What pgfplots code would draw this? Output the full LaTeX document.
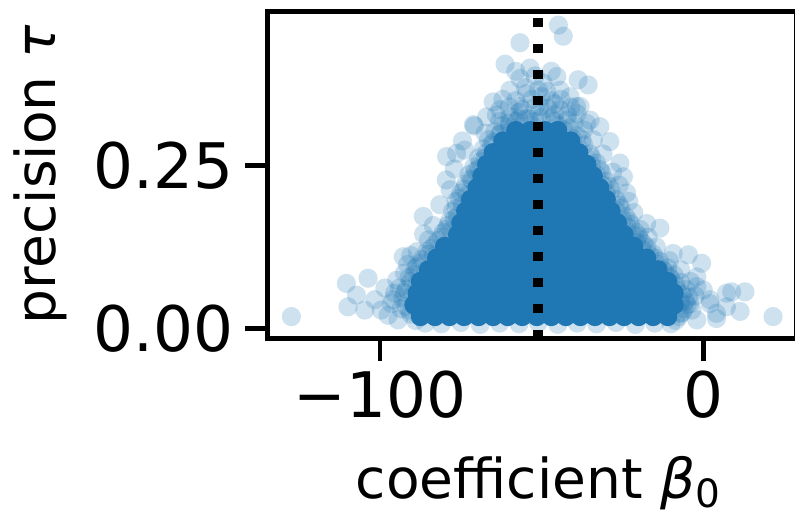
\documentclass[border=0pt]{standalone}
\usepackage{fontspec}
\setmainfont{DejaVu Sans}
\usepackage{pgfplots}
\pgfplotsset{compat=1.18}
\definecolor{mplblue}{HTML}{1F77B4}
\begin{document}
\begin{tikzpicture}
\useasboundingbox (0,0) rectangle (397.5pt,257.5pt);
\clip (0,0) rectangle (397.5pt,257.5pt);
\begin{axis}[
  at={(133.75pt,88.15pt)}, anchor=south west,
  scale only axis, width=264.25pt, height=163.6pt,
  xmin=-134.8, xmax=28.7, ymin=-0.016, ymax=0.487,
  axis line style={line width=2.3pt, black},
  tick align=outside, tick pos=left, major tick length=11pt,
  tick style={line width=2.3pt, black},
  xtick={-100,0}, xticklabels={−100,0},
  ytick={0,0.25}, yticklabels={0.00,0.25},
  ticklabel style={font=\fontsize{31.4}{35}\selectfont},
  xticklabel style={yshift=-1.5pt},
  yticklabel style={xshift=-2.5pt},
  xlabel={coefficient \textit{β}\raisebox{-4.5pt}{\fontsize{19.5}{20}\selectfont 0}},
  ylabel={precision \textit{τ}},
  every axis x label/.style={at={(axis description cs:0.5118,-0.4869)}, anchor=base, font=\fontsize{27.5}{30}\selectfont},
  every axis y label/.style={at={(axis description cs:-0.4002,0.5)}, rotate=90, anchor=base, font=\fontsize{27.5}{30}\selectfont},
  clip marker paths=true,
  axis on top,
]
% dense core of the cloud
\addplot[only marks, mark=*, mark size=4.8pt, mark options={draw=mplblue, draw opacity=0, fill=mplblue}] coordinates {
(-87.5,0.018) (-83,0.018) (-78.5,0.018) (-74,0.018) (-69.5,0.018) (-65,0.018) (-60.5,0.018) (-56,0.018) (-51.5,0.018) (-47,0.018) (-42.5,0.018) (-38,0.018) (-33.5,0.018) (-29,0.018) (-24.5,0.018) (-20,0.018) (-15.5,0.018) (-11,0.018)
(-89.5,0.036) (-85,0.036) (-80.5,0.036) (-76,0.036) (-71.5,0.036) (-67,0.036) (-62.5,0.036) (-58,0.036) (-53.5,0.036) (-49,0.036) (-44.5,0.036) (-40,0.036) (-35.5,0.036) (-31,0.036) (-26.5,0.036) (-22,0.036) (-17.5,0.036) (-13,0.036) (-9,0.036)
(-88.5,0.054) (-84,0.054) (-79.5,0.054) (-75,0.054) (-70.5,0.054) (-66,0.054) (-61.5,0.054) (-57,0.054) (-52.5,0.054) (-48,0.054) (-43.5,0.054) (-39,0.054) (-34.5,0.054) (-30,0.054) (-25.5,0.054) (-21,0.054) (-16.5,0.054) (-12.5,0.054) (-9,0.054)
(-87.5,0.072) (-83.5,0.072) (-79,0.072) (-74.5,0.072) (-70,0.072) (-65.5,0.072) (-61,0.072) (-56.5,0.072) (-52,0.072) (-47.5,0.072) (-43,0.072) (-38.5,0.072) (-34,0.072) (-29.5,0.072) (-25,0.072) (-20.5,0.072) (-16,0.072) (-11,0.072)
(-85,0.090) (-81,0.090) (-76.5,0.090) (-72,0.090) (-67.5,0.090) (-63,0.090) (-58.5,0.090) (-54,0.090) (-49.5,0.090) (-45,0.090) (-40.5,0.090) (-36,0.090) (-31.5,0.090) (-27,0.090) (-22.5,0.090) (-18,0.090) (-14,0.090)
(-82.5,0.108) (-78.5,0.108) (-74,0.108) (-69.5,0.108) (-65,0.108) (-60.5,0.108) (-56,0.108) (-51.5,0.108) (-47,0.108) (-42.5,0.108) (-38,0.108) (-33.5,0.108) (-29,0.108) (-24.5,0.108) (-20,0.108) (-17.5,0.108)
(-80,0.126) (-75.5,0.126) (-71,0.126) (-66.5,0.126) (-62,0.126) (-57.5,0.126) (-53,0.126) (-48.5,0.126) (-44,0.126) (-39.5,0.126) (-35,0.126) (-30.5,0.126) (-26,0.126) (-21.5,0.126)
(-76,0.144) (-72,0.144) (-67.5,0.144) (-63,0.144) (-58.5,0.144) (-54,0.144) (-49.5,0.144) (-45,0.144) (-40.5,0.144) (-36,0.144) (-31.5,0.144) (-27.5,0.144) (-24.5,0.144)
(-75,0.162) (-70.5,0.162) (-66,0.162) (-61.5,0.162) (-57,0.162) (-52.5,0.162) (-48,0.162) (-43.5,0.162) (-39,0.162) (-34.5,0.162) (-30,0.162) (-26.5,0.162)
(-73.5,0.180) (-69,0.180) (-64.5,0.180) (-60,0.180) (-55.5,0.180) (-51,0.180) (-46.5,0.180) (-42,0.180) (-37.5,0.180) (-33,0.180) (-28.5,0.180)
(-72,0.198) (-68,0.198) (-63.5,0.198) (-59,0.198) (-54.5,0.198) (-50,0.198) (-45.5,0.198) (-41,0.198) (-36.5,0.198) (-32,0.198) (-30,0.198)
(-70,0.216) (-65.5,0.216) (-61,0.216) (-56.5,0.216) (-52,0.216) (-47.5,0.216) (-43,0.216) (-38.5,0.216) (-34,0.216) (-32,0.216)
(-68.5,0.234) (-64,0.234) (-59.5,0.234) (-55,0.234) (-50.5,0.234) (-46,0.234) (-41.5,0.234) (-37,0.234) (-34,0.234)
(-67,0.252) (-62.5,0.252) (-58,0.252) (-53.5,0.252) (-49,0.252) (-44.5,0.252) (-40,0.252) (-36,0.252)
(-65,0.270) (-60.5,0.270) (-56,0.270) (-51.5,0.270) (-47,0.270) (-42.5,0.270) (-38.5,0.270)
(-62,0.288) (-57.5,0.288) (-53,0.288) (-48.5,0.288) (-44,0.288) (-41,0.288)
(-58,0.304) (-53.5,0.304) (-49,0.304) (-45,0.304)
};
% sparser samples around the core
\addplot[only marks, mark=*, mark size=4.8pt, mark options={draw=mplblue, draw opacity=0, fill=mplblue, fill opacity=0.22}] coordinates {
(-127.4,0.018) (-110.4,0.069) (-103.7,0.077) (-107.3,0.051) (-109.9,0.033) (-104.7,0.028) (-99.6,0.028) (-98.5,0.062) (-101.6,0.044) (-94.4,0.013) (-92.4,0.085) (-95.5,0.054) (-96.5,0.038) (-97.5,0.020) (-92.8,0.110) (-94.8,0.074) (-95.9,0.044) (-90.5,0.112) (-86.6,0.172) (-85.0,0.136) (-79.4,0.264) (-76.3,0.269) (-78.3,0.213) (-71.1,0.313) (-73.8,0.274) (-70.8,0.311)
(21.6,0.018) (12.9,0.056) (8.8,0.056) (11.4,0.026) (7.2,0.033) (4.1,0.015) (2.1,0.038) (0,0.059) (-2.0,0.079) (-0.5,0.100) (-4.6,0.113) (-9.3,0.115) (-13.4,0.154) (-17.5,0.161) (-15.5,0.074) (-4.1,0.038) (-7.2,0.023) (-2.0,0.013) (4.1,0.023) (2.1,0.044) (7.2,0.054) (-2,0.064) (-23.7,0.208) (-24.7,0.233) (-25.8,0.254) (-28.9,0.287) (-32.0,0.310) (-36.1,0.315) (-39.2,0.341)
(-44.8,0.466) (-43.3,0.449) (-56.7,0.439) (-61.3,0.406) (-53.6,0.400) (-56.7,0.384) (-45.3,0.387) (-38.7,0.382) (-35.6,0.374) (-59.8,0.366) (-65.0,0.348) (-49.5,0.377) (-48.4,0.364) (-54.6,0.361) (-41.2,0.356) (-44.3,0.366) (-62.9,0.336) (-56.7,0.341) (-50.5,0.341) (-44.3,0.336) (-38.1,0.341) (-35.0,0.320) (-59.8,0.325) (-67.0,0.325)
(-53,0.352) (-47,0.350) (-58,0.350) (-51,0.330) (-47,0.322) (-55,0.322) (-42,0.328) (-63,0.318) (-60,0.310) (-40,0.315) (-52,0.318) (-48,0.338) (-45,0.312) (-57,0.332) (-53,0.312)
(-90.5,0.022) (-92,0.034) (-93,0.047) (-91.8,0.060) (-90.5,0.072) (-89.5,0.083) (-88.5,0.095) (-87,0.106) (-85.5,0.118) (-83,0.129) (-81,0.140) (-79.5,0.152) (-78.5,0.165) (-77.5,0.180) (-76.5,0.195) (-75,0.208) (-73.5,0.222) (-72.5,0.236) (-71,0.248) (-69.5,0.262) (-68,0.276) (-66.5,0.290) (-64.5,0.302) (-62,0.312)
(-89,0.012) (-90,0.050) (-88.5,0.070) (-86,0.088) (-83.5,0.110) (-80,0.125) (-78,0.150) (-76,0.172) (-74.5,0.190) (-73,0.205) (-71.5,0.228) (-69.5,0.245) (-67.5,0.262) (-65.5,0.282) (-63,0.298)
(-8.5,0.012) (-6.5,0.024) (-5,0.036) (-4.5,0.048) (-5.5,0.060) (-7,0.071) (-9,0.082) (-11,0.093) (-13.5,0.103) (-15.5,0.114) (-17.5,0.125) (-19.5,0.136) (-21,0.148) (-22.5,0.160) (-24,0.172) (-25.5,0.185) (-27,0.198) (-28.5,0.212) (-30,0.226) (-31.5,0.240) (-33,0.254) (-35,0.268) (-37,0.282) (-39,0.296) (-41.5,0.308)
(-7,0.040) (-8,0.058) (-10,0.076) (-12.5,0.090) (-15,0.108) (-18.5,0.130) (-20,0.142) (-23,0.165) (-26,0.190) (-29,0.218) (-32,0.244) (-34.5,0.262) (-37.5,0.290)
(-86,0.008) (-81,0.007) (-75,0.009) (-69,0.006) (-63,0.008) (-57,0.007) (-51,0.009) (-45,0.006) (-39,0.008) (-33,0.007) (-27,0.009) (-21,0.006) (-15,0.008) (-10,0.007)
(-91,0.028) (-92.5,0.055) (-91,0.078) (-89,0.092) (-87.5,0.100) (-85,0.114) (-84,0.123) (-82,0.135) (-80.5,0.147) (-79,0.158) (-77,0.168) (-76.5,0.184) (-75.5,0.200) (-74,0.214) (-72,0.230) (-70.5,0.242) (-69,0.256) (-67,0.270) (-65,0.286) (-62.5,0.300) (-60,0.315) (-57,0.322)
(-7.5,0.018) (-6,0.030) (-5.5,0.042) (-6.5,0.052) (-8.5,0.066) (-10.5,0.080) (-12,0.088) (-14,0.098) (-16.5,0.112) (-19,0.122) (-20.5,0.132) (-22,0.145) (-23.5,0.156) (-25,0.168) (-27,0.182) (-28.5,0.195) (-30,0.208) (-31,0.220) (-33,0.236) (-34.5,0.250) (-36.5,0.264) (-38.5,0.276) (-40.5,0.292) (-43,0.305) (-46,0.318)
(-58,0.318) (-54,0.322) (-50,0.324) (-46,0.328) (-56,0.336) (-52,0.340) (-46,0.345) (-60,0.340) (-50,0.356) (-44,0.352) (-55,0.370) (-51,0.366) (-62,0.352) (-39,0.330) (-41,0.340) (-52,0.388) (-47,0.395) (-58,0.395)
(-93.5,0.030) (-94,0.062) (-91.5,0.098) (-88.5,0.118) (-86.5,0.145) (-83.5,0.158) (-81.5,0.190) (-79.5,0.228) (-77,0.245) (-74.5,0.288) (-67.5,0.300) (-64,0.328)
(-3.5,0.028) (-2.5,0.050) (-4,0.072) (-7,0.090) (-10.5,0.104) (-14.5,0.125) (-17,0.140) (-19.5,0.152) (-21.5,0.178) (-23,0.195) (-26,0.220) (-28,0.240) (-31,0.268) (-34,0.290) (-37,0.305) (-42,0.320)
};
% reference line
\addplot[black, line width=4.6pt, dash pattern=on 4.6pt off 8.4pt] coordinates {(-51.1,-0.016) (-51.1,0.487)};
\end{axis}
\end{tikzpicture}
\end{document}
